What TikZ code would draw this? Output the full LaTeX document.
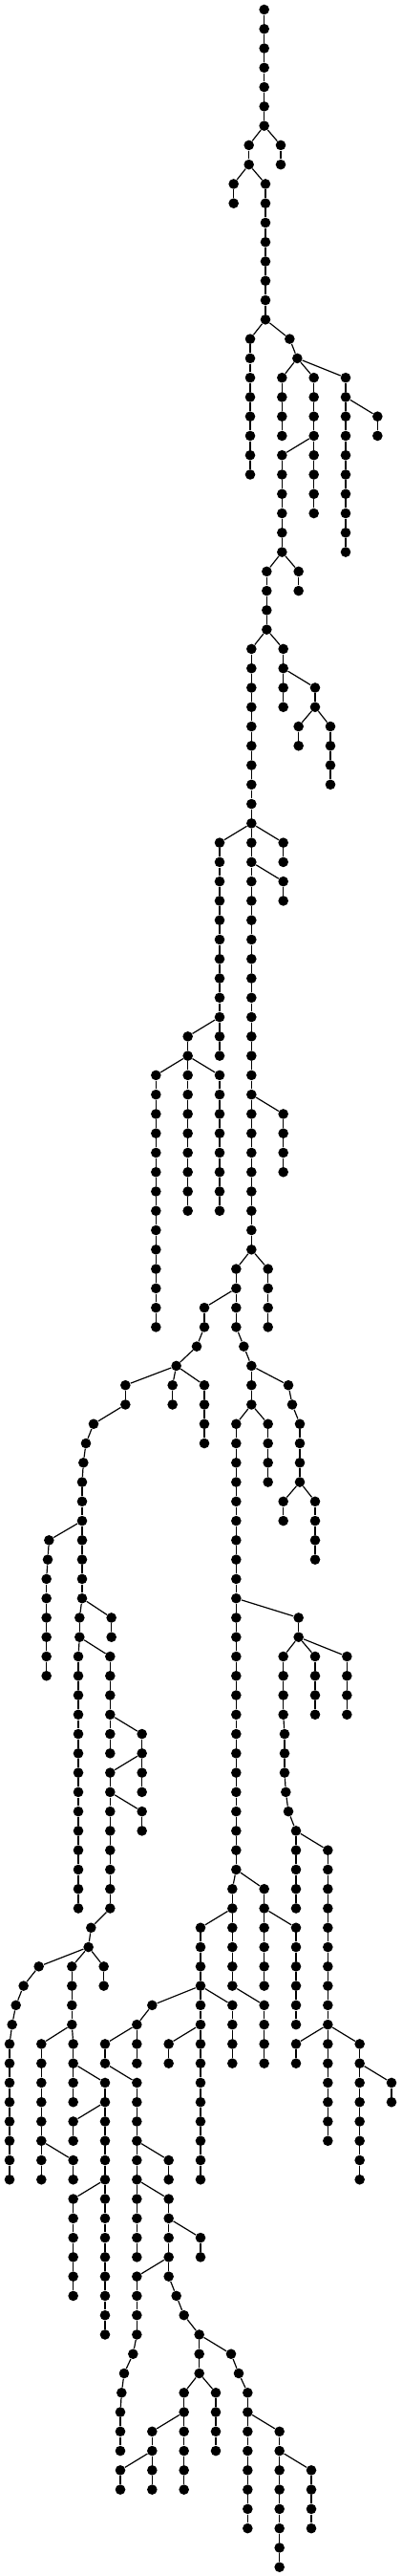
\documentclass[tikz,border=0pt]{standalone}
\usepackage{tikz}

% vertical runs of the tree: column/first level/last level
\def\treeruns{830/0/6,882/7/8,782/7/8,734/9/10,834/9/16,
786/17/24,910/17/17,934/18/18,886/19/22,986/19/26,1086/19/28,1186/21/22,
886/23/28,938/29/30,838/29/32,790/33/64,890/33/36,990/35/36,938/37/38,
1038/37/40,690/43/54,890/43/44,890/45/46,590/53/62,490/55/68,690/55/62,
890/57/60,742/65/68,842/65/68,642/67/68,618/69/69,554/70/70,766/69/69,
790/70/72,394/71/72,542/71/72,642/71/74,906/71/71,918/72/72,294/73/73,
270/74/74,262/75/75,258/76/82,742/73/96,842/73/76,942/73/76,890/77/78,
990/77/80,154/79/79,150/80/80,146/81/86,250/83/84,350/83/84,938/83/84,
246/85/98,346/85/90,890/85/88,990/85/88,1090/85/88,446/89/92,894/89/91,
346/91/98,898/92/92,446/93/94,906/93/93,930/94/98,1030/95/110,730/97/102,
830/97/102,286/99/99,630/99/112,930/99/104,278/100/100,122/101/101,
226/101/104,326/101/102,74/102/102,50/103/103,478/103/103,730/103/106,
830/103/106,38/104/104,430/104/106,30/105/112,130/105/112,230/105/108,
330/105/106,530/105/106,930/105/106,1130/105/112,330/107/120,430/107/116,
1230/107/108,230/109/110,230/111/112,530/111/112,230/113/118,530/113/117,
630/115/116,430/117/120,554/118/118,578/119/119,626/120/122,418/121/121,
726/121/121,390/122/122,750/122/122,382/123/123,578/123/128,678/123/126,
778/123/130,378/124/126,478/125/128,878/125/132,378/127/128,978/127/130}

% parent/child links between runs
\def\treejoins{n830-6/n782-7,n830-6/n882-7,n782-8/n734-9,n782-8/n834-9,
n834-16/n786-17,n834-16/n910-17,n910-17/n934-18,n934-18/n886-19,
n934-18/n986-19,n934-18/n1086-19,n1086-20/n1186-21,n986-22/n886-23,
n886-28/n838-29,n886-28/n938-29,n838-32/n790-33,n838-32/n890-33,
n890-34/n990-35,n990-36/n938-37,n990-36/n1038-37,n790-42/n690-43,
n790-42/n890-43,n790-44/n890-45,n690-52/n590-53,n590-54/n490-55,
n590-54/n690-55,n790-56/n890-57,n790-64/n742-65,n790-64/n842-65,
n742-66/n642-67,n642-68/n618-69,n618-69/n554-70,n742-68/n766-69,
n766-69/n790-70,n554-70/n394-71,n554-70/n542-71,n554-70/n642-71,
n790-70/n906-71,n906-71/n918-72,n918-72/n942-73,n790-72/n742-73,
n790-72/n842-73,n394-72/n294-73,n294-73/n270-74,n270-74/n262-75,
n262-75/n258-76,n942-76/n890-77,n942-76/n990-77,n258-78/n154-79,
n154-79/n150-80,n150-80/n146-81,n258-82/n250-83,n258-82/n350-83,
n742-82/n938-83,n250-84/n246-85,n250-84/n346-85,n938-84/n890-85,
n938-84/n990-85,n938-84/n1090-85,n346-88/n446-89,n890-88/n894-89,
n446-90/n346-91,n894-91/n898-92,n346-92/n446-93,n898-92/n906-93,
n906-93/n930-94,n930-94/n1030-95,n742-96/n730-97,n742-96/n830-97,
n730-98/n630-99,n830-98/n930-99,n346-98/n286-99,n286-99/n278-100,
n278-100/n122-101,n278-100/n226-101,n278-100/n326-101,n122-101/n74-102,
n74-102/n50-103,n50-103/n38-104,n38-104/n30-105,n630-102/n478-103,
n630-102/n730-103,n730-102/n830-103,n478-103/n430-104,n226-104/n130-105,
n226-104/n230-105,n430-104/n330-105,n630-104/n530-105,n1030-104/n930-105,
n1030-104/n1130-105,n230-106/n330-107,n330-106/n430-107,
n1130-106/n1230-107,n330-108/n230-109,n130-110/n230-111,
n430-110/n530-111,n330-112/n230-113,n430-112/n530-113,n530-114/n630-115,
n530-116/n430-117,n530-117/n554-118,n554-118/n578-119,n578-119/n626-120,
n430-120/n418-121,n626-120/n726-121,n418-121/n390-122,n726-121/n750-122,
n390-122/n382-123,n626-122/n578-123,n626-122/n678-123,n750-122/n778-123,
n382-123/n378-124,n578-124/n478-125,n778-124/n878-125,n478-126/n378-127,
n878-126/n978-127}

\begin{document}
\begin{tikzpicture}[
  x=0.16667pt, y=-10.135pt,
  dot/.style={circle, fill=black, inner sep=0pt, minimum size=5.3pt},
  link/.style={line width=0.6pt}
]
\useasboundingbox (0,-0.4934) rectangle (1260,132.46);

% Runs: one dot per level, joined straight down
\foreach \x/\a/\b in \treeruns {
  \foreach \l in {\a,...,\b} \node[dot] (n\x-\l) at (\x,\l) {};
  \ifnum\a<\b\relax
    \pgfmathtruncatemacro\second{\a+1}
    \foreach \l [evaluate=\l as \prev using int(\l-1)] in {\second,...,\b}
      \draw[link] (n\x-\prev) -- (n\x-\l);
  \fi
}

% Branches
\foreach \u/\v in \treejoins \draw[link] (\u) -- (\v);

\end{tikzpicture}
\end{document}
